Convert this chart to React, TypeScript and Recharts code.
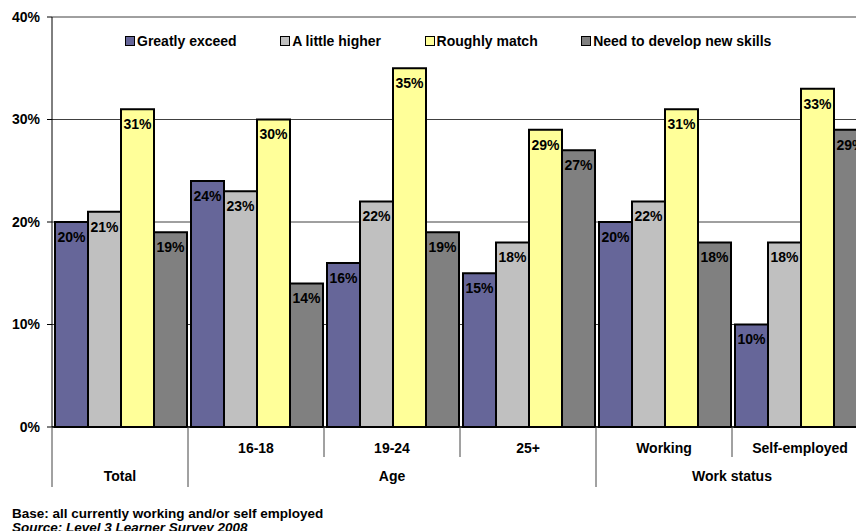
import { BarChart, Bar, XAxis, YAxis, CartesianGrid, Legend, LabelList } from 'recharts'

const SUB_LABELS = ['', '16-18', '19-24', '25+', 'Working', 'Self-employed']
const GROUP_NAMES = ['Total', 'Age', 'Work status']
const GROUP_SIZES = [1, 3, 2]

const GREATLY_EXCEED = [20, 24, 16, 15, 20, 10]
const A_LITTLE_HIGHER = [21, 23, 22, 18, 22, 18]
const ROUGHLY_MATCH = [31, 30, 35, 29, 31, 33]
const NEED_NEW_SKILLS = [19, 14, 19, 27, 18, 29]

const Y_TICKS = [0, 10, 20, 30, 40]

const SERIES = [
  { key: 'greatly', name: 'Greatly exceed', color: '#666699' },
  { key: 'little', name: 'A little higher', color: '#C0C0C0' },
  { key: 'roughly', name: 'Roughly match', color: '#FFFF99' },
  { key: 'develop', name: 'Need to develop new skills', color: '#808080' },
]

const data = SUB_LABELS.map((label, i) => ({
  label,
  greatly: GREATLY_EXCEED[i],
  little: A_LITTLE_HIGHER[i],
  roughly: ROUGHLY_MATCH[i],
  develop: NEED_NEW_SKILLS[i],
}))

// index of the first category in each group
const GROUP_STARTS = GROUP_SIZES.map((_, g) => GROUP_SIZES.slice(0, g).reduce((a, b) => a + b, 0))

const FONT = 'Arial, "Liberation Sans", sans-serif'

function CategoryTick(props: any) {
  const { x, y, payload, index, width } = props
  const half = payload.offset ?? width / SUB_LABELS.length / 2
  const left = x - half
  const g = GROUP_STARTS.indexOf(index)
  return (
    <g>
      <line x1={left} y1={y} x2={left} y2={y + (g >= 0 ? 60 : 30)} stroke="#444" strokeWidth={1} />
      <text x={x} y={y + 26} textAnchor="middle" fontFamily={FONT} fontSize={14} fontWeight="bold" fill="#000">
        {payload.value}
      </text>
      {g >= 0 && (
        <text
          x={left + half * GROUP_SIZES[g]}
          y={y + 54}
          textAnchor="middle"
          fontFamily={FONT}
          fontSize={14}
          fontWeight="bold"
          fill="#000"
        >
          {GROUP_NAMES[g]}
        </text>
      )}
    </g>
  )
}

// legend drawn in series order
function LegendContent() {
  return (
    <div style={{ display: 'flex', fontFamily: FONT, fontSize: 14, fontWeight: 'bold', lineHeight: '16px' }}>
      {SERIES.map((s) => (
        <div key={s.key} style={{ display: 'flex', alignItems: 'center', marginRight: 43.5 }}>
          <span
            style={{
              width: 8,
              height: 8,
              border: '1.5px solid #000',
              background: s.color,
              marginRight: 2,
            }}
          />
          <span style={{ whiteSpace: 'nowrap' }}>{s.name}</span>
        </div>
      ))}
    </div>
  )
}

export default function App() {
  return (
    <div
      style={{
        position: 'absolute',
        left: 0,
        top: 0,
        width: 856,
        height: 531,
        overflow: 'hidden',
        background: '#fff',
        fontFamily: FONT,
      }}
    >
      <BarChart
        width={872}
        height={490}
        data={data}
        margin={{ top: 17, right: 4, bottom: 0, left: 0 }}
        barCategoryGap={3}
        barGap={0}
      >
        <CartesianGrid vertical={false} stroke="#404040" />
        <XAxis
          dataKey="label"
          interval={0}
          height={63}
          tickSize={0}
          tickMargin={0}
          tickLine={false}
          axisLine={{ stroke: '#000', strokeWidth: 1.5 }}
          tick={<CategoryTick />}
        />
        <YAxis
          width={52}
          domain={[0, 40]}
          ticks={Y_TICKS}
          tickFormatter={(v) => `${v}%`}
          tickSize={5}
          tickMargin={7}
          axisLine={{ stroke: '#000' }}
          tickLine={{ stroke: '#000' }}
          tick={{ fill: '#000', fontSize: 14, fontWeight: 'bold', fontFamily: FONT }}
        />
        <Legend
          layout="horizontal"
          verticalAlign="middle"
          align="center"
          content={<LegendContent />}
          wrapperStyle={{ top: 33, left: 125, width: 'auto' }}
        />
        {SERIES.map((s) => (
          <Bar key={s.key} dataKey={s.key} name={s.name} fill={s.color} stroke="#000" strokeWidth={2} isAnimationActive={false}>
            <LabelList
              dataKey={s.key}
              position="insideTop"
              offset={10}
              formatter={(v: any) => `${v}%`}
              fill="#000"
              fontSize={14}
              fontWeight="bold"
              fontFamily={FONT}
            />
          </Bar>
        ))}
      </BarChart>
      <div
        style={{
          position: 'absolute',
          left: 12,
          top: 507,
          fontSize: 13.5,
          lineHeight: '13.5px',
          fontWeight: 'bold',
          color: '#000',
          whiteSpace: 'nowrap',
        }}
      >
        <div>Base: all currently working and/or self employed</div>
        <div style={{ fontStyle: 'italic' }}>Source: Level 3 Learner Survey 2008</div>
      </div>
    </div>
  )
}
